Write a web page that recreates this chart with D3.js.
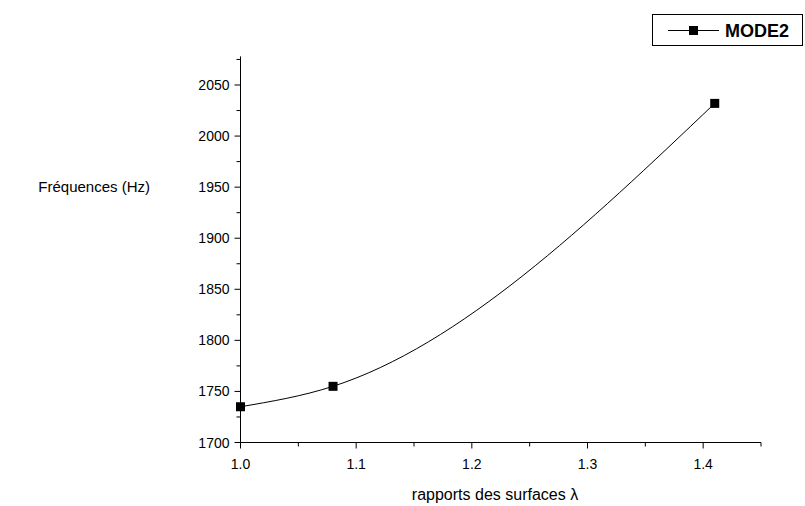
<!DOCTYPE html>
<html><head><meta charset="utf-8">
<script src="https://cdn.jsdelivr.net/npm/d3@7"></script>
<style>body{margin:0;background:#fff}svg{display:block}text{font-family:"Liberation Sans",Arial,sans-serif}</style>
</head><body>
<script>
const xValues = [1.0, 1.08, 1.41];
const mode2 = [1735, 1755, 2032];
const xTicks = [1.0, 1.1, 1.2, 1.3, 1.4];
const yTicks = [1700, 1750, 1800, 1850, 1900, 1950, 2000, 2050];
const seriesName = "MODE2";
const xTitle = "rapports des surfaces λ";
const yTitle = "Fréquences (Hz)";

const W = 805, H = 506;
const svg = d3.select("body").append("svg").attr("width", W).attr("height", H);
const x = d3.scaleLinear().domain([1.0, 1.45]).range([240.5, 761]);
const y = d3.scaleLinear().domain([1700, 2050]).range([442.5, 85]);
const yTop = y(2078);

// x axis
const gx = svg.append("g").attr("transform", `translate(0,${y(1700)})`);
gx.append("line").attr("x1", x(1.0)).attr("x2", x(1.45)).attr("stroke", "#000");
const xMinor = d3.range(1.05, 1.451, 0.1);
gx.selectAll(".xmaj").data(xTicks).enter().append("line")
  .attr("x1", d => x(d)).attr("x2", d => x(d)).attr("y1", 0).attr("y2", 6).attr("stroke", "#000");
gx.selectAll(".xmin").data(xMinor).enter().append("line")
  .attr("x1", d => x(d)).attr("x2", d => x(d)).attr("y1", 0).attr("y2", 4).attr("stroke", "#000");
gx.selectAll(".xl").data(xTicks).enter().append("text")
  .attr("x", d => x(d)).attr("y", 26).attr("text-anchor", "middle").attr("font-size", 14)
  .text(d => d.toFixed(1));

// y axis
const gy = svg.append("g").attr("transform", `translate(${x(1.0)},0)`);
gy.append("line").attr("y1", y(1700)).attr("y2", yTop).attr("stroke", "#000");
const yMinor = d3.range(1725, 2076, 50);
gy.selectAll(".ymaj").data(yTicks).enter().append("line")
  .attr("y1", d => y(d)).attr("y2", d => y(d)).attr("x1", 0).attr("x2", -6).attr("stroke", "#000");
gy.selectAll(".ymin").data(yMinor).enter().append("line")
  .attr("y1", d => y(d)).attr("y2", d => y(d)).attr("x1", 0).attr("x2", -4).attr("stroke", "#000");
gy.selectAll(".yl").data(yTicks).enter().append("text")
  .attr("x", -11).attr("y", d => y(d) + 5).attr("text-anchor", "end").attr("font-size", 14)
  .text(d => d);

// titles
svg.append("text").attr("x", 150).attr("y", 192).attr("text-anchor", "end").attr("font-size", 15).text(yTitle);
svg.append("text").attr("x", 495).attr("y", 500).attr("text-anchor", "middle").attr("font-size", 16).text(xTitle);

// curve
const pts = xValues.map((v, i) => [v, mode2[i]]);
const line = d3.line().x(d => x(d[0])).y(d => y(d[1])).curve(d3.curveMonotoneX);
svg.append("path").attr("d", line(pts)).attr("fill", "none").attr("stroke", "#000").attr("stroke-width", 1);
svg.selectAll(".pt").data(pts).enter().append("rect")
  .attr("x", d => x(d[0]) - 4.5).attr("y", d => y(d[1]) - 4.5).attr("width", 9).attr("height", 9).attr("fill", "#000");

// legend
const lg = svg.append("g");
lg.append("rect").attr("x", 652.5).attr("y", 14.5).attr("width", 150).attr("height", 31).attr("fill", "#fff").attr("stroke", "#000");
lg.append("line").attr("x1", 668).attr("x2", 719).attr("y1", 30.5).attr("y2", 30.5).attr("stroke", "#000");
lg.append("rect").attr("x", 689).attr("y", 26).attr("width", 9).attr("height", 9).attr("fill", "#000");
lg.append("text").attr("x", 725).attr("y", 37).attr("font-size", 18).attr("font-weight", "bold").text(seriesName);
</script>
</body></html>
